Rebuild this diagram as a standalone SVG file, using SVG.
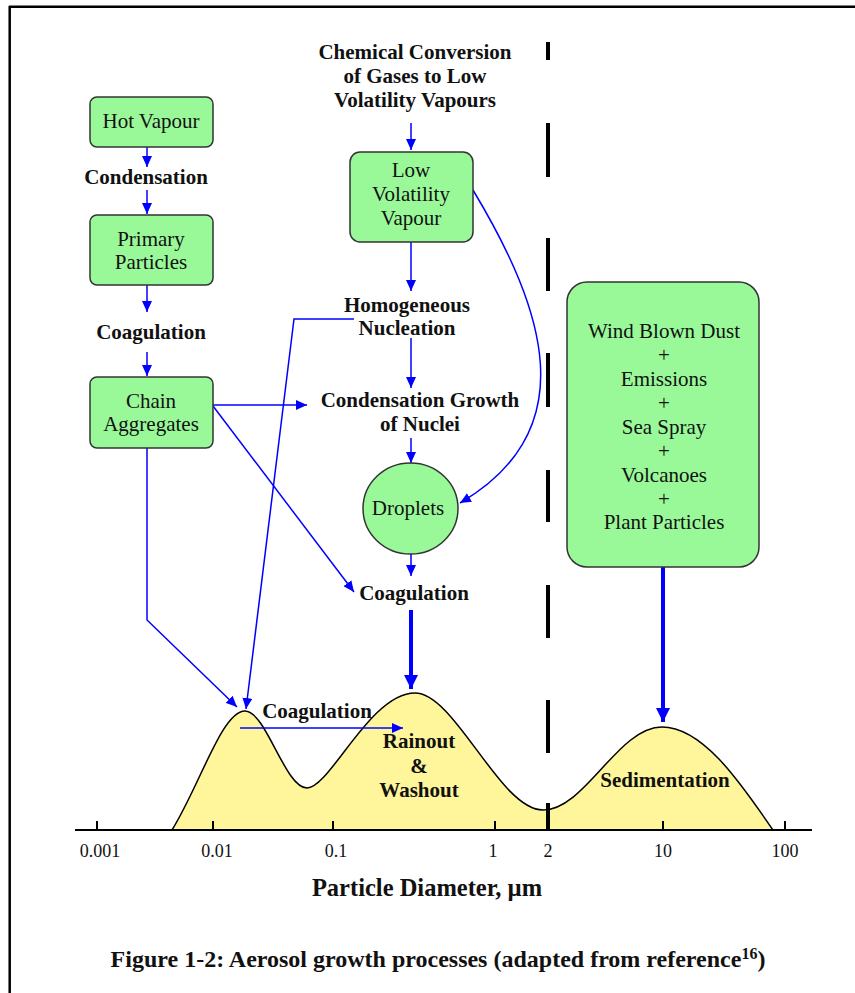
<svg xmlns="http://www.w3.org/2000/svg" width="855" height="993" viewBox="0 0 855 993">
<style>
.node{fill:#99f999;stroke:#333;stroke-width:1.5}
.nt{font-family:"Liberation Serif","Times New Roman",serif;font-size:21px;fill:#111;text-anchor:middle}
.lb{font-family:"Liberation Serif","Times New Roman",serif;font-size:21px;font-weight:bold;fill:#111;text-anchor:middle}
.tk{font-family:"Liberation Serif","Times New Roman",serif;font-size:18px;fill:#111;text-anchor:middle}
.c{fill:none;stroke:#0000ff;stroke-width:1.5}
.ck{fill:none;stroke:#0000ff;stroke-width:4}
.dash{stroke:#000;stroke-width:4}
</style>
<defs>
<marker id="a" markerUnits="userSpaceOnUse" markerWidth="11" markerHeight="10" refX="11" refY="5" orient="auto"><path d="M0,0 L11,5 L0,10 z" fill="#0000ff"/></marker>
<marker id="ak" markerUnits="userSpaceOnUse" markerWidth="14" markerHeight="14" refX="14" refY="7" orient="auto"><path d="M0,0 L14,7 L0,14 z" fill="#0000ff"/></marker>
</defs>
<rect width="855" height="993" fill="#fff"/>
<g id="frame" stroke="#000" stroke-width="2.5"><line x1="9" y1="6.7" x2="855" y2="6.7"/><line x1="9.7" y1="6" x2="9.7" y2="993"/></g>

<g id="curve"><path d="M172,830 C200,785 222,711 245,711 C266,711 285,788 307,788 C330,788 370,693 415,693 C455,693 500,810 543,810 C585,810 618,727 662,727 C705,727 745,790 773,830 Z" fill="#fff59a" stroke="#000" stroke-width="1.5"/></g>

<g id="axis" stroke="#000" stroke-width="2">
<line x1="75" y1="830" x2="812" y2="830"/>
<line x1="97" y1="821" x2="97" y2="830"/><line x1="213" y1="821" x2="213" y2="830"/><line x1="333" y1="821" x2="333" y2="830"/><line x1="495" y1="821" x2="495" y2="830"/><line x1="663" y1="821" x2="663" y2="830"/><line x1="785" y1="821" x2="785" y2="830"/>
</g>
<g id="ticklabels">
<text class="tk" x="100" y="857">0.001</text><text class="tk" x="217" y="857">0.01</text><text class="tk" x="336" y="857">0.1</text><text class="tk" x="493" y="857">1</text><text class="tk" x="548" y="857">2</text><text class="tk" x="663" y="857">10</text><text class="tk" x="785" y="857">100</text>
</g>
<g id="divider">
<line class="dash" x1="548" y1="42" x2="548" y2="60"/><line class="dash" x1="548" y1="123" x2="548" y2="177"/><line class="dash" x1="548" y1="238" x2="548" y2="291"/><line class="dash" x1="548" y1="353" x2="548" y2="407"/><line class="dash" x1="548" y1="470" x2="548" y2="522"/><line class="dash" x1="548" y1="585" x2="548" y2="638"/><line class="dash" x1="548" y1="700" x2="548" y2="753"/><line class="dash" x1="548" y1="803" x2="548" y2="830"/>
</g>

<g id="connectors">
<line class="c" x1="147" y1="147" x2="147" y2="167" marker-end="url(#a)"/>
<line class="c" x1="147" y1="190" x2="147" y2="214" marker-end="url(#a)"/>
<line class="c" x1="147" y1="285" x2="147" y2="312" marker-end="url(#a)"/>
<line class="c" x1="147" y1="352" x2="147" y2="376" marker-end="url(#a)"/>
<line class="c" x1="213" y1="405" x2="307" y2="405" marker-end="url(#a)"/>
<line class="c" x1="213" y1="406" x2="354" y2="592" marker-end="url(#a)"/>
<polyline class="c" points="147,448 147,620 237,707" marker-end="url(#a)"/>
<polyline class="c" points="354,319 294,319 246,709" marker-end="url(#a)"/>
<line class="c" x1="411" y1="123" x2="411" y2="150" marker-end="url(#a)"/>
<line class="c" x1="411" y1="242" x2="411" y2="291" marker-end="url(#a)"/>
<line class="c" x1="411" y1="338" x2="411" y2="388" marker-end="url(#a)"/>
<line class="c" x1="411" y1="438" x2="411" y2="463" marker-end="url(#a)"/>
<line class="c" x1="411" y1="554" x2="411" y2="576" marker-end="url(#a)"/>
<path class="c" d="M473,190 C545,310 585,430 460,503" marker-end="url(#a)"/>
<line class="c" x1="240" y1="728" x2="403" y2="728" marker-end="url(#a)"/>
<line class="ck" x1="411" y1="610" x2="411" y2="689" marker-end="url(#ak)"/>
<line class="ck" x1="663" y1="567" x2="663" y2="722" marker-end="url(#ak)"/>
</g>

<g id="hot-vapour"><rect class="node" x="90" y="97" width="123" height="50" rx="7"/><text class="nt" x="151" y="128">Hot Vapour</text></g>
<g id="condensation"><text class="lb" x="146" y="184">Condensation</text></g>
<g id="primary-particles"><rect class="node" x="90" y="215" width="123" height="70" rx="7"/><text class="nt" x="151" y="246">Primary</text><text class="nt" x="151" y="269">Particles</text></g>
<g id="coagulation-1"><text class="lb" x="151" y="339">Coagulation</text></g>
<g id="chain-aggregates"><rect class="node" x="90" y="377" width="123" height="71" rx="7"/><text class="nt" x="151" y="408">Chain</text><text class="nt" x="151" y="431">Aggregates</text></g>
<g id="chemical-conversion"><text class="lb" x="415" y="59">Chemical Conversion</text><text class="lb" x="415" y="83">of Gases to Low</text><text class="lb" x="415" y="107">Volatility Vapours</text></g>
<g id="low-volatility-vapour"><rect class="node" x="350" y="152" width="123" height="90" rx="10"/><text class="nt" x="411" y="177">Low</text><text class="nt" x="411" y="201">Volatility</text><text class="nt" x="411" y="225">Vapour</text></g>
<g id="homogeneous-nucleation"><text class="lb" x="407" y="312">Homogeneous</text><text class="lb" x="407" y="335">Nucleation</text></g>
<g id="condensation-growth"><text class="lb" x="420" y="407">Condensation Growth</text><text class="lb" x="420" y="431">of Nuclei</text></g>
<g id="droplets"><ellipse class="node" cx="410.5" cy="508.5" rx="47.5" ry="45.5"/><text class="nt" x="408" y="515">Droplets</text></g>
<g id="coagulation-2"><text class="lb" x="414" y="600">Coagulation</text></g>
<g id="sources"><rect class="node" x="567" y="282" width="192" height="285" rx="20"/>
<text class="nt" x="664" y="338">Wind Blown Dust</text><text class="nt" x="664" y="362">+</text><text class="nt" x="664" y="386">Emissions</text><text class="nt" x="664" y="410">+</text><text class="nt" x="664" y="434">Sea Spray</text><text class="nt" x="664" y="458">+</text><text class="nt" x="664" y="482">Volcanoes</text><text class="nt" x="664" y="506">+</text><text class="nt" x="664" y="529">Plant Particles</text></g>
<g id="coagulation-3"><text class="lb" x="317" y="718">Coagulation</text></g>
<g id="rainout"><text class="lb" x="419" y="748">Rainout</text><text class="lb" x="419" y="773">&amp;</text><text class="lb" x="419" y="797">Washout</text></g>
<g id="sedimentation"><text class="lb" x="665" y="787">Sedimentation</text></g>
<g id="axis-title"><text class="lb" x="427" y="896" style="font-size:24.5px">Particle Diameter, µm</text></g>
<g id="caption"><text class="lb" x="438" y="967" style="font-size:24px">Figure 1-2: Aerosol growth processes (adapted from reference<tspan dy="-8" style="font-size:16px">16</tspan><tspan dy="8">)</tspan></text></g>
</svg>
